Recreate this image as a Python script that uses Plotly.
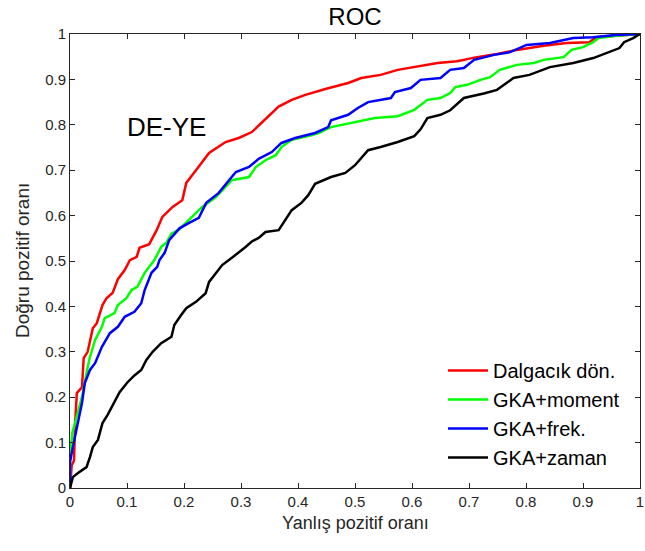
import plotly.graph_objects as go

# ---- data ----
red_x = [0, 0.003, 0.007, 0.009, 0.012, 0.021, 0.024, 0.031, 0.040, 0.047, 0.057, 0.064, 0.075, 0.084, 0.096,
         0.105, 0.117, 0.122, 0.139, 0.152, 0.162, 0.180, 0.197, 0.204, 0.221, 0.244, 0.273, 0.296, 0.319, 0.336,
         0.354, 0.366, 0.389, 0.413, 0.448, 0.488, 0.511, 0.545, 0.575, 0.615, 0.645, 0.679, 0.714, 0.749, 0.784,
         0.831, 0.871, 0.911, 0.923, 0.958, 1.0]
red_y = [0, 0.050, 0.060, 0.143, 0.209, 0.222, 0.286, 0.300, 0.352, 0.363, 0.403, 0.418, 0.430, 0.460, 0.480,
         0.502, 0.509, 0.529, 0.537, 0.568, 0.597, 0.619, 0.634, 0.672, 0.700, 0.738, 0.762, 0.771, 0.784, 0.804,
         0.826, 0.840, 0.855, 0.866, 0.879, 0.892, 0.903, 0.910, 0.921, 0.930, 0.936, 0.940, 0.949, 0.956, 0.965,
         0.974, 0.980, 0.982, 0.993, 0.996, 1.0]

green_x = [0, 0, 0.004, 0.012, 0.021, 0.030, 0.035, 0.044, 0.056, 0.061, 0.078, 0.084, 0.099, 0.108, 0.118,
           0.131, 0.148, 0.160, 0.169, 0.178, 0.192, 0.214, 0.232, 0.256, 0.273, 0.284, 0.314, 0.326, 0.343, 0.361,
           0.371, 0.389, 0.418, 0.436, 0.458, 0.500, 0.535, 0.575, 0.604, 0.627, 0.650, 0.667, 0.676, 0.697, 0.720,
           0.737, 0.754, 0.784, 0.814, 0.831, 0.866, 0.880, 0.900, 0.918, 0.927, 0.958, 1.0]
green_y = [0, 0.062, 0.121, 0.156, 0.200, 0.260, 0.289, 0.326, 0.355, 0.374, 0.385, 0.403, 0.418, 0.436, 0.443,
           0.474, 0.502, 0.531, 0.540, 0.560, 0.570, 0.597, 0.619, 0.641, 0.663, 0.678, 0.685, 0.707, 0.722, 0.733,
           0.751, 0.767, 0.775, 0.782, 0.795, 0.806, 0.815, 0.819, 0.833, 0.855, 0.859, 0.870, 0.883, 0.888, 0.899,
           0.905, 0.921, 0.932, 0.936, 0.943, 0.949, 0.965, 0.971, 0.982, 0.991, 0.996, 1.0]

blue_x = [0, 0, 0.005, 0.014, 0.021, 0.026, 0.035, 0.044, 0.056, 0.070, 0.084, 0.096, 0.113, 0.125, 0.131,
          0.143, 0.153, 0.157, 0.166, 0.174, 0.192, 0.209, 0.226, 0.239, 0.261, 0.279, 0.291, 0.314, 0.331, 0.354,
          0.371, 0.395, 0.430, 0.453, 0.458, 0.488, 0.505, 0.523, 0.563, 0.570, 0.598, 0.615, 0.650, 0.667, 0.691,
          0.709, 0.744, 0.772, 0.801, 0.842, 0.883, 0.918, 0.958, 1.0]
blue_y = [0, 0.057, 0.090, 0.143, 0.187, 0.231, 0.260, 0.275, 0.311, 0.341, 0.355, 0.377, 0.388, 0.407, 0.436,
          0.474, 0.487, 0.502, 0.518, 0.546, 0.572, 0.584, 0.595, 0.628, 0.650, 0.678, 0.696, 0.707, 0.725, 0.740,
          0.760, 0.771, 0.782, 0.795, 0.810, 0.822, 0.837, 0.850, 0.859, 0.872, 0.881, 0.899, 0.903, 0.921, 0.925,
          0.943, 0.954, 0.960, 0.976, 0.980, 0.991, 0.993, 0.998, 1.0]

black_x = [0, 0.005, 0.014, 0.029, 0.035, 0.040, 0.049, 0.057, 0.066, 0.078, 0.087, 0.101, 0.113, 0.125, 0.134,
           0.145, 0.160, 0.178, 0.183, 0.195, 0.204, 0.221, 0.238, 0.244, 0.261, 0.267, 0.284, 0.296, 0.308, 0.319,
           0.331, 0.343, 0.366, 0.389, 0.406, 0.418, 0.430, 0.458, 0.483, 0.500, 0.523, 0.545, 0.575, 0.604, 0.615,
           0.627, 0.650, 0.667, 0.691, 0.726, 0.749, 0.778, 0.806, 0.842, 0.883, 0.918, 0.941, 0.964, 0.972, 0.988,
           0.997, 1.0]
black_y = [0, 0.024, 0.033, 0.046, 0.068, 0.090, 0.106, 0.143, 0.161, 0.189, 0.211, 0.233, 0.248, 0.260, 0.282,
           0.300, 0.319, 0.333, 0.359, 0.381, 0.396, 0.410, 0.429, 0.454, 0.480, 0.491, 0.507, 0.518, 0.531, 0.543,
           0.551, 0.564, 0.568, 0.612, 0.628, 0.645, 0.670, 0.685, 0.694, 0.711, 0.744, 0.751, 0.762, 0.775, 0.790,
           0.815, 0.822, 0.832, 0.859, 0.869, 0.877, 0.903, 0.910, 0.927, 0.936, 0.947, 0.958, 0.969, 0.982, 0.991,
           0.998, 1.0]

series_names = ["Dalgacık dön.", "GKA+moment", "GKA+frek.", "GKA+zaman"]
series_colors = ["#FF0000", "#00FF00", "#0000FF", "#000000"]
tick_vals = [0, 0.1, 0.2, 0.3, 0.4, 0.5, 0.6, 0.7, 0.8, 0.9, 1]
tick_text = ["0", "0.1", "0.2", "0.3", "0.4", "0.5", "0.6", "0.7", "0.8", "0.9", "1"]

FONT = "Liberation Sans, Arial, sans-serif"
AXC = "#262626"
L, R, T, B = 70, 5, 34, 63
W, H = 645, 551
PW, PH = W - L - R, H - T - B

fig = go.Figure()
for name, col, xs, ys in zip(series_names, series_colors,
                             [red_x, green_x, blue_x, black_x],
                             [red_y, green_y, blue_y, black_y]):
    assert len(xs) == len(ys), name
    fig.add_trace(go.Scatter(x=xs, y=ys, mode="lines", name=name,
                             line=dict(color=col, width=2.5)))

axis_common = dict(range=[0, 1], tickvals=tick_vals, ticktext=tick_text,
                   ticks="inside", ticklen=5, tickwidth=1, tickcolor=AXC,
                   showline=True, linecolor=AXC, linewidth=1, mirror="ticks",
                   showgrid=False, zeroline=False, ticklabeloverflow="allow",
                   automargin=False,
                   tickfont=dict(family=FONT, size=15, color=AXC))

fig.update_layout(
    width=W, height=H,
    margin=dict(l=L, r=R, t=T, b=B),
    paper_bgcolor="white", plot_bgcolor="white",
    font=dict(family=FONT, color=AXC),
    title=dict(text="ROC", x=(L + W - R) / 2 / W, xanchor="center",
               y=1 - 17 / H, yanchor="middle", yref="container",
               font=dict(family=FONT, size=24, color="black")),
    xaxis=dict(**axis_common),
    yaxis=dict(**axis_common),
    legend=dict(x=(443 - L) / PW, y=0.302, xanchor="left", yanchor="top",
                bgcolor="rgba(255,255,255,0)", borderwidth=0,
                font=dict(family=FONT, size=20, color="black"),
                itemwidth=40),
    showlegend=True,
)
# axis titles placed at the reference's pixel positions
fig.add_annotation(x=0.5, y=-(523 - (H - B)) / PH, xref="paper", yref="paper",
                   text="Yanlış pozitif oranı", showarrow=False,
                   xanchor="center", yanchor="middle",
                   font=dict(family=FONT, size=18, color=AXC))
fig.add_annotation(x=-(L - 22) / PW, y=0.5, xref="paper", yref="paper",
                   text="Doğru pozitif oranı", showarrow=False, textangle=-90,
                   xanchor="center", yanchor="middle",
                   font=dict(family=FONT, size=19, color=AXC))
fig.add_annotation(x=0.169, y=0.795, xref="x", yref="y", text="DE-YE", showarrow=False,
                   font=dict(family=FONT, size=26, color="black"))

fig.write_html("out.html")
